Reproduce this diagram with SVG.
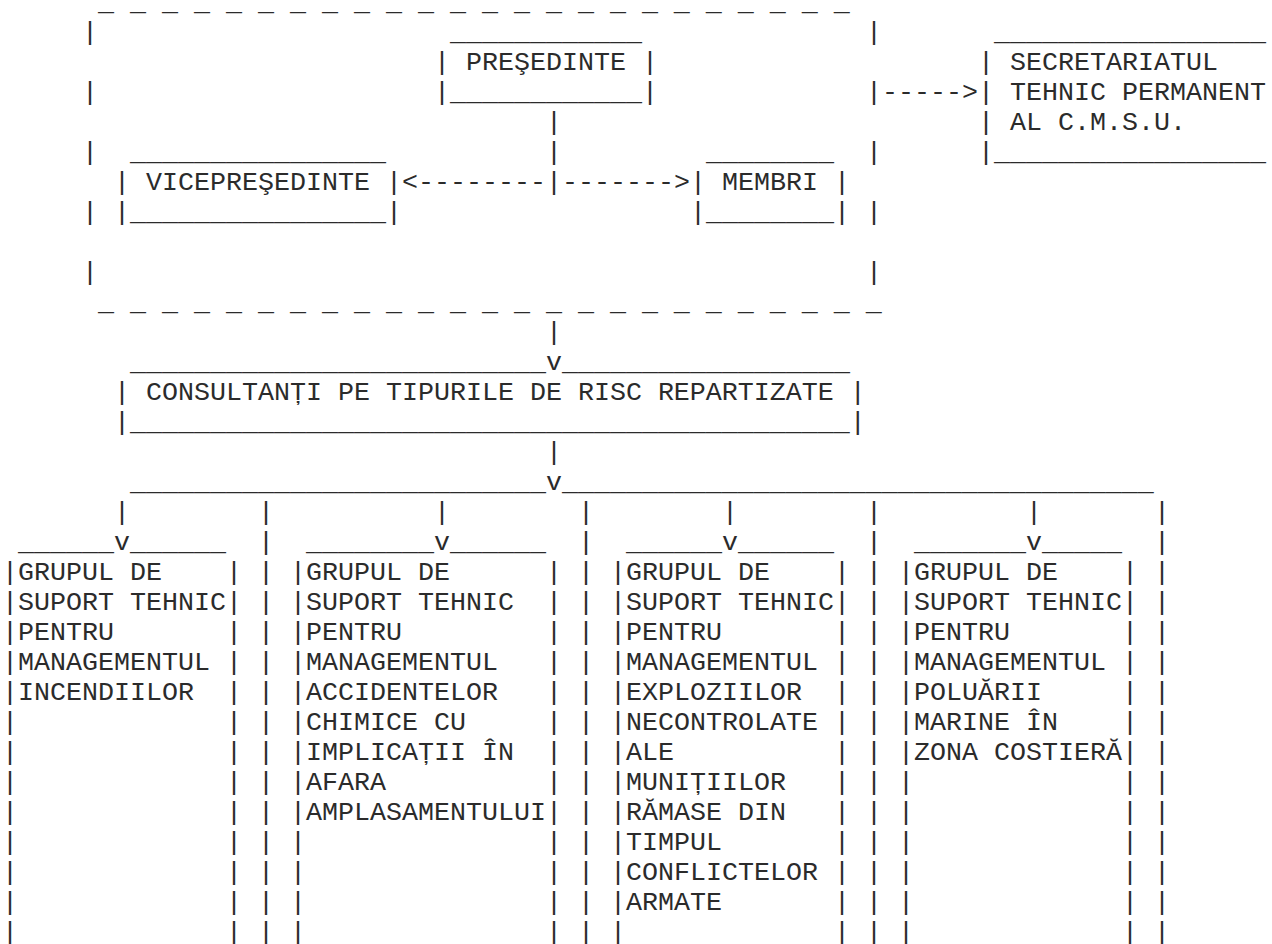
<svg xmlns="http://www.w3.org/2000/svg" width="1272" height="944" viewBox="0 0 1272 944" xml:space="preserve">
<style>
text { font-family: "Liberation Mono", "Courier New", monospace; font-size: 26.667px; fill: #2b2b2b; white-space: pre; }
</style>
<rect x="0" y="0" width="1272" height="944" fill="#ffffff"/>
<g id="council-frame">
<text x="98" y="10">_ _ _ _ _ _ _ _ _ _ _ _ _ _ _ _ _ _ _ _ _ _ _ _</text>
<text x="98" y="310">_ _ _ _ _ _ _ _ _ _ _ _ _ _ _ _ _ _ _ _ _ _ _ _ _</text>
<text x="82 82 82 82 82" y="40 100 160 220 280">|||||</text>
<text x="866 866 866 866 866" y="40 100 160 220 280">|||||</text>
</g>
<g id="node-presedinte">
<text x="450" y="40">____________</text>
<text x="434" y="70">| PREŞEDINTE |</text>
<text x="434" y="100">|____________|</text>
</g>
<g id="node-vicepresedinte">
<text x="130" y="160">________________</text>
<text x="114" y="190">| VICEPREŞEDINTE |</text>
<text x="114" y="220">|________________|</text>
</g>
<g id="node-membri">
<text x="706" y="160">________</text>
<text x="690" y="190">| MEMBRI |</text>
<text x="690" y="220">|________|</text>
</g>
<g id="node-secretariat">
<text x="994" y="40">_________________</text>
<text x="978" y="70">| SECRETARIATUL</text>
<text x="978" y="100">| TEHNIC PERMANENT</text>
<text x="978" y="130">| AL C.M.S.U.</text>
<text x="978" y="160">|_________________</text>
</g>
<g id="node-consultanti">
<text x="130" y="370">__________________________</text>
<text x="562" y="370">__________________</text>
<text x="114" y="400">| CONSULTANȚI PE TIPURILE DE RISC REPARTIZATE |</text>
<text x="114" y="430">|_____________________________________________|</text>
</g>
<g id="node-grup-incendii">
<text x="18" y="550">______</text>
<text x="130" y="550">______</text>
<text x="2 2 2 2 2 2 2 2 2 2 2 2 2" y="580 610 640 670 700 730 760 790 820 850 880 910 940">|||||||||||||</text>
<text x="226 226 226 226 226 226 226 226 226 226 226 226 226" y="580 610 640 670 700 730 760 790 820 850 880 910 940">|||||||||||||</text>
<text x="18" y="580">GRUPUL DE</text>
<text x="18" y="610">SUPORT TEHNIC</text>
<text x="18" y="640">PENTRU</text>
<text x="18" y="670">MANAGEMENTUL</text>
<text x="18" y="700">INCENDIILOR</text>
</g>
<g id="node-grup-chimice">
<text x="306" y="550">________</text>
<text x="450" y="550">______</text>
<text x="290 290 290 290 290 290 290 290 290 290 290 290 290" y="580 610 640 670 700 730 760 790 820 850 880 910 940">|||||||||||||</text>
<text x="546 546 546 546 546 546 546 546 546 546 546 546 546" y="580 610 640 670 700 730 760 790 820 850 880 910 940">|||||||||||||</text>
<text x="306" y="580">GRUPUL DE</text>
<text x="306" y="610">SUPORT TEHNIC</text>
<text x="306" y="640">PENTRU</text>
<text x="306" y="670">MANAGEMENTUL</text>
<text x="306" y="700">ACCIDENTELOR</text>
<text x="306" y="730">CHIMICE CU</text>
<text x="306" y="760">IMPLICAȚII ÎN</text>
<text x="306" y="790">AFARA</text>
<text x="306" y="820">AMPLASAMENTULUI</text>
</g>
<g id="node-grup-explozii">
<text x="626" y="550">______</text>
<text x="738" y="550">______</text>
<text x="610 610 610 610 610 610 610 610 610 610 610 610 610" y="580 610 640 670 700 730 760 790 820 850 880 910 940">|||||||||||||</text>
<text x="834 834 834 834 834 834 834 834 834 834 834 834 834" y="580 610 640 670 700 730 760 790 820 850 880 910 940">|||||||||||||</text>
<text x="626" y="580">GRUPUL DE</text>
<text x="626" y="610">SUPORT TEHNIC</text>
<text x="626" y="640">PENTRU</text>
<text x="626" y="670">MANAGEMENTUL</text>
<text x="626" y="700">EXPLOZIILOR</text>
<text x="626" y="730">NECONTROLATE</text>
<text x="626" y="760">ALE</text>
<text x="626" y="790">MUNIȚIILOR</text>
<text x="626" y="820">RĂMASE DIN</text>
<text x="626" y="850">TIMPUL</text>
<text x="626" y="880">CONFLICTELOR</text>
<text x="626" y="910">ARMATE</text>
</g>
<g id="node-grup-poluare">
<text x="914" y="550">_______</text>
<text x="1042" y="550">_____</text>
<text x="898 898 898 898 898 898 898 898 898 898 898 898 898" y="580 610 640 670 700 730 760 790 820 850 880 910 940">|||||||||||||</text>
<text x="1122 1122 1122 1122 1122 1122 1122 1122 1122 1122 1122 1122 1122" y="580 610 640 670 700 730 760 790 820 850 880 910 940">|||||||||||||</text>
<text x="914" y="580">GRUPUL DE</text>
<text x="914" y="610">SUPORT TEHNIC</text>
<text x="914" y="640">PENTRU</text>
<text x="914" y="670">MANAGEMENTUL</text>
<text x="914" y="700">POLUĂRII</text>
<text x="914" y="730">MARINE ÎN</text>
<text x="914" y="760">ZONA COSTIERĂ</text>
</g>
<g id="connectors">
<text x="546 546" y="130 160">||</text>
<text x="402" y="190">&lt;--------|-------&gt;</text>
<text x="882" y="100">-----&gt;</text>
<text x="546 546" y="340 370">|v</text>
<text x="546" y="460">|</text>
<text x="130" y="490">__________________________v_____________________________________</text>
<text x="114 114" y="520 550">|v</text>
<text x="434 434" y="520 550">|v</text>
<text x="722 722" y="520 550">|v</text>
<text x="1026 1026" y="520 550">|v</text>
<text x="258 258 258 258 258 258 258 258 258 258 258 258 258 258 258" y="520 550 580 610 640 670 700 730 760 790 820 850 880 910 940">|||||||||||||||</text>
<text x="578 578 578 578 578 578 578 578 578 578 578 578 578 578 578" y="520 550 580 610 640 670 700 730 760 790 820 850 880 910 940">|||||||||||||||</text>
<text x="866 866 866 866 866 866 866 866 866 866 866 866 866 866 866" y="520 550 580 610 640 670 700 730 760 790 820 850 880 910 940">|||||||||||||||</text>
<text x="1154 1154 1154 1154 1154 1154 1154 1154 1154 1154 1154 1154 1154 1154 1154" y="520 550 580 610 640 670 700 730 760 790 820 850 880 910 940">|||||||||||||||</text>
</g>
</svg>
